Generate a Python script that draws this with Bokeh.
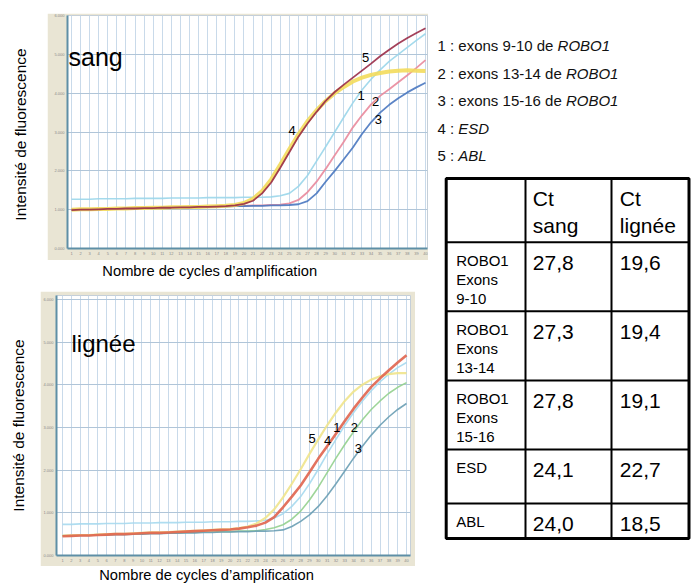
from math import pi
from bokeh.plotting import figure
from bokeh.layouts import row, column
from bokeh.models import Range1d, FixedTicker, NumeralTickFormatter, Spacer
from bokeh.core.properties import value
from bokeh.embed import file_html
from bokeh.resources import INLINE

FONT = "Liberation Sans"
BEIGE = "#e9e5d4"

# ---------------- data ----------------
cycles = list(range(1, 41))
y_ticks = [0, 1, 2, 3, 4, 5, 6]

# "sang" panel (fluorescence per cycle)
sang_1 = [1.27,1.27,1.27,1.28,1.28,1.28,1.28,1.29,1.29,1.29,
          1.29,1.30,1.30,1.30,1.30,1.31,1.31,1.31,1.31,1.32,
          1.32,1.32,1.33,1.36,1.42,1.60,1.88,2.25,2.62,3.00,
          3.38,3.75,4.08,4.36,4.60,4.82,5.00,5.18,5.36,5.53]
sang_2 = [1.01,1.01,1.02,1.02,1.03,1.03,1.04,1.04,1.05,1.05,
          1.06,1.06,1.07,1.07,1.08,1.08,1.09,1.09,1.10,1.10,
          1.11,1.11,1.12,1.13,1.16,1.25,1.45,1.72,2.05,2.40,
          2.75,3.12,3.43,3.71,3.93,4.10,4.28,4.46,4.65,4.85]
sang_3 = [1.00,1.00,1.01,1.01,1.02,1.02,1.03,1.03,1.04,1.04,
          1.05,1.05,1.06,1.06,1.07,1.07,1.08,1.08,1.09,1.09,
          1.10,1.10,1.11,1.11,1.12,1.14,1.22,1.42,1.72,2.00,
          2.30,2.60,2.95,3.25,3.50,3.70,3.87,4.02,4.15,4.27]
sang_4 = [1.00,1.01,1.01,1.02,1.02,1.03,1.03,1.04,1.04,1.05,
          1.05,1.06,1.06,1.07,1.07,1.08,1.09,1.10,1.12,1.17,
          1.28,1.48,1.78,2.16,2.56,2.94,3.28,3.56,3.80,4.00,
          4.16,4.30,4.40,4.47,4.52,4.56,4.58,4.59,4.58,4.57]
sang_5 = [0.99,1.00,1.00,1.01,1.02,1.02,1.03,1.03,1.04,1.04,
          1.05,1.05,1.06,1.06,1.07,1.07,1.08,1.09,1.11,1.15,
          1.23,1.42,1.70,2.08,2.48,2.88,3.22,3.52,3.80,4.03,
          4.22,4.40,4.58,4.76,4.95,5.12,5.28,5.42,5.55,5.67]

# "lignée" panel
lig_1 = [0.73,0.73,0.74,0.74,0.74,0.75,0.75,0.75,0.76,0.76,
         0.76,0.77,0.77,0.77,0.78,0.78,0.78,0.79,0.79,0.79,
         0.80,0.80,0.81,0.82,0.88,0.98,1.15,1.38,1.68,2.02,
         2.38,2.72,3.05,3.35,3.62,3.86,4.07,4.25,4.40,4.52]
lig_2 = [0.47,0.47,0.48,0.48,0.49,0.49,0.50,0.50,0.51,0.51,
         0.52,0.52,0.53,0.53,0.54,0.54,0.55,0.55,0.56,0.56,
         0.57,0.57,0.58,0.61,0.65,0.72,0.85,1.04,1.30,1.60,
         1.94,2.28,2.60,2.90,3.18,3.42,3.62,3.80,3.94,4.05]
lig_3 = [0.46,0.46,0.47,0.47,0.48,0.48,0.49,0.49,0.50,0.50,
         0.51,0.51,0.52,0.52,0.53,0.53,0.54,0.54,0.55,0.55,
         0.56,0.56,0.57,0.57,0.58,0.60,0.68,0.80,0.95,1.15,
         1.40,1.68,1.98,2.28,2.56,2.82,3.05,3.25,3.42,3.56]
lig_4 = [0.45,0.46,0.47,0.47,0.48,0.49,0.50,0.50,0.51,0.52,
         0.53,0.53,0.54,0.55,0.56,0.57,0.58,0.59,0.60,0.61,
         0.63,0.66,0.70,0.77,0.90,1.13,1.38,1.64,1.95,2.27,
         2.56,2.85,3.15,3.44,3.70,3.95,4.15,4.34,4.52,4.69]
lig_5 = [0.46,0.47,0.48,0.48,0.49,0.50,0.51,0.51,0.52,0.53,
         0.54,0.54,0.55,0.56,0.57,0.58,0.59,0.60,0.61,0.62,
         0.64,0.68,0.75,0.88,1.08,1.36,1.68,2.02,2.38,2.72,
         3.05,3.35,3.62,3.84,4.00,4.12,4.20,4.25,4.27,4.27]

curve_ids = ["1", "2", "3", "4", "5"]

legend_plain = ["exons 9-10 de ", "exons 13-14 de ", "exons 15-16 de ", "", ""]
legend_ital = ["ROBO1", "ROBO1", "ROBO1", "ESD", "ABL"]

table_header = [["Ct", "sang"], ["Ct", "lignée"]]
table_rows = [["ROBO1", "Exons", "9-10"], ["ROBO1", "Exons", "13-14"],
              ["ROBO1", "Exons", "15-16"], ["ESD"], ["ABL"]]
ct_sang = ["27,8", "27,3", "27,8", "24,1", "24,0"]
ct_lignee = ["19,6", "19,4", "19,1", "22,7", "18,5"]

y_title = "Intensité de fluorescence"
x_title = "Nombre de cycles d’amplification"

# ---------------- styles / placement ----------------
sang_series = [sang_1, sang_2, sang_3, sang_4, sang_5]
sang_colors = ["#9ad6ea", "#e98a9c", "#4a78c0", "#f3dc5c", "#9a2c48"]
sang_widths = [1.6, 1.8, 1.8, 4.0, 1.8]
sang_lab_x = [32.9, 34.5, 34.8, 25.3, 33.4]
sang_lab_y = [3.94, 3.79, 3.32, 3.04, 4.92]

lig_series = [lig_1, lig_2, lig_3, lig_5, lig_4]
lig_colors = ["#a6d9ee", "#93d08e", "#6a9fb4", "#f0e48c", "#e0644e"]
lig_widths = [1.6, 1.6, 1.6, 2.2, 2.6]
lig_lab_x = [32.1, 34.1, 34.55, 31.06, 29.3]
lig_lab_y = [2.99, 2.99, 2.50, 2.69, 2.75]

W = {'0': .556, '1': .556, '2': .556, '3': .556, '4': .556, '5': .556, '6': .556,
     '7': .556, '8': .556, '9': .556, ' ': .278, ':': .278, '-': .333, 'e': .556,
     'x': .5, 'o': .556, 'n': .556, 's': .5, 'd': .556}


def text_w(s, size):
    return sum(W.get(ch, .556) for ch in s) * size


def blank(w, h, yr=None):
    p = figure(width=w, height=h, x_range=Range1d(0, w),
               y_range=yr if yr is not None else Range1d(0, h),
               x_axis_type=None, y_axis_type=None, output_backend="svg",
               toolbar_location=None, min_border=0)
    p.outline_line_color = None
    p.grid.visible = False
    p.background_fill_color = "white"
    p.border_fill_color = "white"
    return p


def chart(w, h, xr, yr, bl, br, bt, bb):
    p = figure(width=w, height=h, x_range=Range1d(*xr), y_range=Range1d(*yr),
               output_backend="svg", toolbar_location=None,
               min_border_left=bl, min_border_right=br,
               min_border_top=bt, min_border_bottom=bb)
    p.border_fill_color = BEIGE
    p.background_fill_color = "white"
    p.outline_line_color = "#c5cfd8"
    p.xaxis.ticker = FixedTicker(ticks=cycles)
    p.yaxis.ticker = FixedTicker(ticks=y_ticks)
    p.yaxis.formatter = NumeralTickFormatter(format="0.000")
    for ax in p.axis:
        ax.major_label_text_font_size = "4px"
        ax.major_label_text_color = "#8a8a8a"
        ax.major_label_text_font = FONT
        ax.axis_line_color = "#5e8fa6"
        ax.axis_line_width = 2
        ax.major_tick_out = 0
        ax.major_tick_in = 0
        ax.minor_tick_line_color = None
        ax.major_label_standoff = 3
    p.xgrid.grid_line_color = "#c9daea"
    p.ygrid.grid_line_color = "#b0c5d8"
    return p


def mtext(p, x, y, t, size, **kw):
    p.text(x=x, y=y, text=t, text_baseline="middle", text_font=value(FONT),
           text_font_size=value(size), text_color=kw.pop("color", "black"), **kw)


# ---------------- top chart (sang) ----------------
top = chart(381, 247, (0.56, 40.22), (0, 6), 20, 1, 2, 12)
for ys, c, lw in zip(sang_series, sang_colors, sang_widths):
    top.line(cycles, ys, line_color=c, line_width=lw, line_alpha=0.9)
mtext(top, sang_lab_x, sang_lab_y, curve_ids, "13px", text_align="center")
mtext(top, [0.67], [4.92], ["sang"], "25px")

# ---------------- bottom chart (lignée) ----------------
bot = chart(375, 275, (0.32, 40.45), (0, 6.09), 15, 5, 4, 11)
for ys, c, lw in zip(lig_series, lig_colors, lig_widths):
    bot.line(cycles, ys, line_color=c, line_width=lw, line_alpha=0.9)
mtext(bot, lig_lab_x, lig_lab_y, curve_ids, "13px", text_align="center")
mtext(bot, [2.02], [4.96], ["lignée"], "24px")

# ---------------- axis titles ----------------
def ytitle(w, h, xc, yc_top):
    p = blank(w, h)
    mtext(p, [xc], [h - yc_top], [y_title], "15.5px", angle=pi / 2,
          text_align="center")
    return p


def xtitle(w, h, xc, yc_top):
    p = blank(w, h)
    mtext(p, [xc], [h - yc_top], [x_title], "14.7px", text_align="center")
    return p


ylab_top = ytitle(47, 284, 20, 134)
xlab_top = xtitle(381, 24, 150.5, 10.5)
ylab_bot = ytitle(40, 300, 18, 141)
xlab_bot = xtitle(375, 18, 159, 8.5)

top_block = row(ylab_top, column(Spacer(width=381, height=13), top, xlab_top))
bot_block = row(ylab_bot, column(Spacer(width=375, height=7), bot, xlab_bot))
left = column(top_block, bot_block)

# ---------------- right side: legend + table ----------------
SW, SH = 263, 584
side = blank(SW, SH, yr=Range1d(SH, 0))

leg_x = 9
leg_y0, leg_dy = 45, 27.5
for i, (num, pl, it) in enumerate(zip(curve_ids, legend_plain, legend_ital)):
    prefix = f"{num} : {pl}"
    yc = leg_y0 + i * leg_dy
    mtext(side, [leg_x], [yc], [prefix], "15px", color="#111111")
    mtext(side, [leg_x + text_w(prefix, 15)], [yc], [it], "15px",
          color="#111111", text_font_style="italic")

col_edges = [17.7, 97, 183, 260.5]
row_edges = [178, 241.7, 310.7, 380, 449, 503, 538]
# inner lines
side.segment(x0=[col_edges[1], col_edges[2]], y0=[row_edges[0]] * 2,
             x1=[col_edges[1], col_edges[2]], y1=[row_edges[-1]] * 2,
             line_color="black", line_width=2)
side.segment(x0=[col_edges[0]] * 5, y0=row_edges[1:-1],
             x1=[col_edges[-1]] * 5, y1=row_edges[1:-1],
             line_color="black", line_width=2)
# outer frame
side.quad(left=[col_edges[0]], right=[col_edges[-1]], top=[row_edges[0]],
          bottom=[row_edges[-1]], fill_color=None, line_color="black",
          line_width=3)

hx = [col_edges[1] + 7.3, col_edges[2] + 8.3]
for j, hdr in enumerate(table_header):
    for k, t in enumerate(hdr):
        mtext(side, [hx[j]], [row_edges[0] + 19.7 + k * 27.6], [t], "21px")

for r, labels in enumerate(table_rows):
    rt = row_edges[r + 1]
    for k, t in enumerate(labels):
        mtext(side, [col_edges[0] + 10], [rt + 17.9 + k * 19.3], [t], "15px")
    mtext(side, [hx[0]], [rt + 20.5], [ct_sang[r]], "21px")
    mtext(side, [hx[1]], [rt + 20.5], [ct_lignee[r]], "21px")

layout = row(left, side)
open("out.html", "w").write(file_html(layout, INLINE))
